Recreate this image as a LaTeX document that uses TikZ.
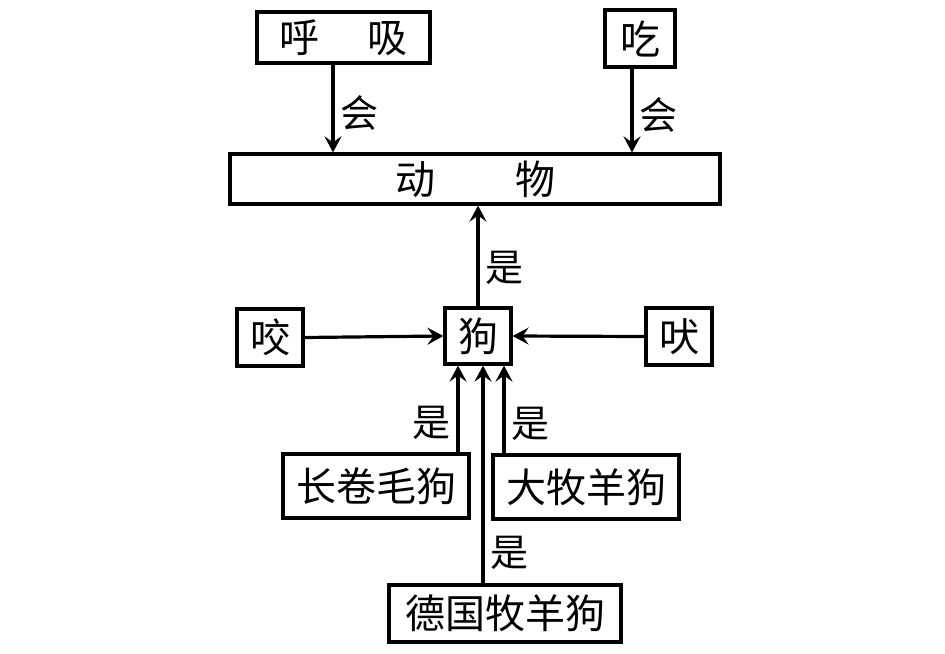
\documentclass[tikz,border=0pt]{standalone}
\usepackage{fontspec}
\setmainfont{Noto Sans CJK SC}
\usepackage{tikz}
\usetikzlibrary{positioning, arrows.meta, calc}
\tikzset{dogmap/.style={
    x=0.5pt, y=-0.5pt,
    box/.style={rectangle, draw=black, line width=1.6pt, inner sep=0pt, align=center, font=\fontsize{20}{24}\selectfont},
    rel/.style={black, line width=1.6pt, -{Stealth[length=8pt, width=8.5pt, inset=3pt]}},
    tag/.style={inner sep=3pt, font=\fontsize{19}{22}\selectfont},
}}

\begin{document}
\begin{tikzpicture}[dogmap]
    \useasboundingbox (0,0) rectangle (945,653);
    % top row
    \node[box, minimum width=86.5pt, minimum height=25.5pt] (breathe) at (343.5,37.5) {呼\hspace{1.2em}吸};
    \node[box, minimum width=35pt, minimum height=28.5pt] (eat) at (640,38.5) {吃};
    \node[box, minimum width=245pt, minimum height=25pt] (animal) at (475,179) {动\hspace{2em}物};
    % middle row
    \node[box, minimum width=33pt, minimum height=28pt] (dog) at (478,336) {狗};
    \node[box, minimum width=33pt, minimum height=28.5pt] (bite) at (270,337.5) {咬};
    \node[box, minimum width=33pt, minimum height=28.5pt] (bark) at (679,336.5) {吠};
    % breeds
    \node[box, minimum width=93pt, minimum height=32pt] (poodle) at (376,486) {长卷毛狗};
    \node[box, minimum width=93pt, minimum height=32pt] (collie) at (586,487) {大牧羊狗};
    \node[box, minimum width=116pt, minimum height=28.5pt] (shepherd) at (505,613.5) {德国牧羊狗};

    \draw[rel] ([xshift=-5.25pt]breathe.south) -- ([xshift=-5.25pt]breathe.south |- animal.north)
        node[tag, right, pos=0.55] {会};
    \draw[rel] ([xshift=-4pt]eat.south) -- ([xshift=-4pt]eat.south |- animal.north)
        node[tag, right, pos=0.55] {会};
    \draw[rel] (dog.north) -- (dog.north |- animal.south)
        node[tag, right, pos=0.38] {是};
    \draw[rel] (bite.east) -- (dog.west);
    \draw[rel] (bark.west) -- (dog.east);
    \draw[rel] ([xshift=-10pt]dog.south |- poodle.north) -- ([xshift=-10pt]dog.south)
        node[tag, left, pos=0.34] {是};
    \draw[rel] ([xshift=13pt]dog.south |- collie.north) -- ([xshift=13pt]dog.south)
        node[tag, right, pos=0.34] {是};
    \draw[rel] ([xshift=2.5pt]dog.south |- shepherd.north) -- ([xshift=2.5pt]dog.south)
        node[tag, right, pos=0.14] {是};
\end{tikzpicture}
\end{document}
